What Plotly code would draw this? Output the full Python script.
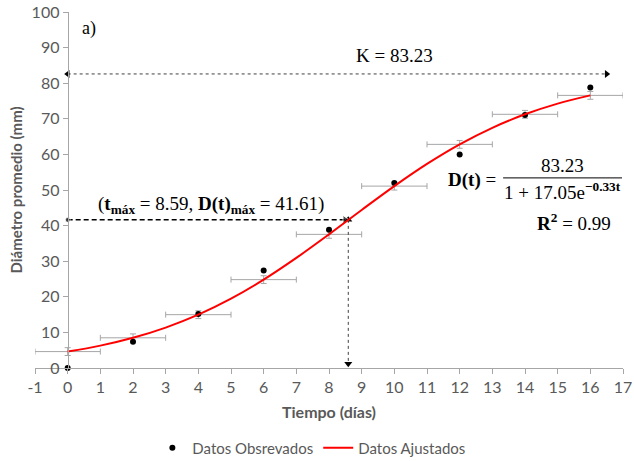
import plotly.graph_objects as go

# ---------------- data ----------------
t_obs = [0, 2, 4, 6, 8, 10, 12, 14, 16]
d_obs = [0.0, 7.4, 15.2, 27.4, 38.8, 52.0, 60.0, 71.1, 78.8]

t_fit = [0, 1, 2, 3, 4, 5, 6, 7, 8, 9, 10, 11, 12, 13, 14, 15, 16]
d_fit = [4.61, 6.28, 8.48, 11.35, 14.98, 19.47, 24.82, 30.92, 37.54,
         44.39, 51.09, 57.32, 62.82, 67.47, 71.26, 74.27, 76.58]

t_err = [0, 2, 4, 6, 8, 10, 12, 14, 16]
d_err = [4.61, 8.48, 14.98, 24.82, 37.54, 51.09, 62.82, 71.26, 76.58]
x_err = [1, 1, 1, 1, 1, 1, 1, 1, 1]
y_err = [1.1, 1.1, 1.1, 1.1, 1.1, 1.1, 1.1, 1.1, 1.1]

K_value = 83.23
K_line = [0, 16.5]
K_line_y = 82.6
t_max = 8.59
D_max = 41.61

x_ticks = list(range(-1, 18))
x_ticktext = [str(v) for v in x_ticks]
y_ticks = list(range(0, 101, 10))

GRAY = "#595959"
AXIS = "#a6a6a6"
SERIF = "Liberation Serif"
SANS = "Lato"

fig = go.Figure()

# error bars on fitted series
fig.add_trace(go.Scatter(
    x=t_err, y=d_err, mode="markers", marker=dict(size=1, color="rgba(0,0,0,0)"),
    error_x=dict(type="data", array=x_err, color=AXIS, thickness=1, width=3),
    error_y=dict(type="data", array=y_err, color=AXIS, thickness=1, width=3),
    showlegend=False, hoverinfo="skip"))

# K dotted arrow
fig.add_trace(go.Scatter(
    x=K_line, y=[K_line_y, K_line_y], mode="lines+markers",
    line=dict(color="#404040", width=1, dash="dot"),
    marker=dict(symbol=["triangle-left", "triangle-right"], size=7, color="black"),
    showlegend=False, hoverinfo="skip", cliponaxis=False))

# vertical dotted arrow at t_max
fig.add_trace(go.Scatter(
    x=[t_max, t_max], y=[D_max, 1.2], mode="lines+markers",
    line=dict(color="#404040", width=1, dash="dot"),
    marker=dict(symbol=["triangle-up", "triangle-down"], size=7, color="black"),
    showlegend=False, hoverinfo="skip", cliponaxis=False))

# dashed horizontal arrow at D_max
fig.add_trace(go.Scatter(
    x=[0, t_max - 0.1], y=[D_max, D_max], mode="lines+markers",
    line=dict(color="black", width=1.5, dash="5px,3px"),
    marker=dict(symbol=["circle", "triangle-right"], size=[5, 8], color="black"),
    showlegend=False, hoverinfo="skip", cliponaxis=False))

# observed
fig.add_trace(go.Scatter(
    x=t_obs, y=d_obs, mode="markers", name="Datos Obsrevados",
    marker=dict(size=6, color="black"), cliponaxis=False))

# fitted
fig.add_trace(go.Scatter(
    x=t_fit, y=d_fit, mode="lines", name="Datos Ajustados",
    line=dict(color="#ff0000", width=2, shape="spline")))

annots = [
    dict(x=0.65, y=95.4, text="a)", font=dict(family=SERIF, size=18, color="black")),
    dict(x=10.0, y=87.9, text=f"K = {K_value}", font=dict(family=SERIF, size=19, color="black")),
    dict(x=4.4, y=45.8,
         text=f"(<b>t</b><sub><b>máx</b></sub> = {t_max}, <b>D(t)</b><sub><b>máx</b></sub> = {D_max})",
         font=dict(family=SERIF, size=19, color="black")),
    dict(x=12.38, y=52.8, text="<b>D(t)</b> =", font=dict(family=SERIF, size=19, color="black")),
    dict(x=15.16, y=57.0, text=f"{K_value}", font=dict(family=SERIF, size=19, color="black")),
    dict(x=15.16, y=49.8, text="1 + 17.05e<sup><b>−0.33t</b></sup>",
         font=dict(family=SERIF, size=19, color="black")),
    dict(x=15.5, y=41.0, text="<b>R<sup>2</sup></b> = 0.99", font=dict(family=SERIF, size=19, color="black")),
]
for a in annots:
    a.update(xref="x", yref="y", showarrow=False, xanchor="center", yanchor="middle")
fig.update_layout(annotations=annots)

fig.add_shape(type="line", xref="x", yref="y", x0=13.33, x1=16.97, y0=53.4, y1=53.4,
              line=dict(color="black", width=1))

fig.update_layout(
    width=634, height=461,
    margin=dict(l=35, r=11, t=12, b=93, autoexpand=False),
    paper_bgcolor="white", plot_bgcolor="white",
    font=dict(family=SANS, color=GRAY),
    showlegend=True,
    legend=dict(orientation="h", x=0.47, xanchor="center", y=-0.225, yanchor="middle",
                font=dict(family=SANS, size=15, color=GRAY), itemwidth=30,
                bgcolor="rgba(0,0,0,0)"),
    xaxis=dict(range=[-1, 17], tickvals=x_ticks, ticktext=x_ticktext, showgrid=False, zeroline=False,
               automargin=False,
               showline=True, linecolor=AXIS, linewidth=1, ticks="outside", ticklen=5,
               tickcolor=AXIS, tickfont=dict(family=SANS, size=16, color=GRAY),
               title=dict(text="<b>Tiempo (días)</b>", font=dict(family=SANS, size=16, color=GRAY),
                          standoff=11)),
    yaxis=dict(range=[0, 100], tickvals=y_ticks, showgrid=False, zeroline=False,
               anchor="free", position=1/18, automargin=False,
               showline=True, linecolor=AXIS, linewidth=1, ticks="outside", ticklen=5,
               tickcolor=AXIS, tickfont=dict(family=SANS, size=16, color=GRAY),
               title=dict(text="<b>Diámetro promedio (mm)</b>",
                          font=dict(family=SANS, size=15, color=GRAY), standoff=4)),
)

fig.write_html("out.html")
